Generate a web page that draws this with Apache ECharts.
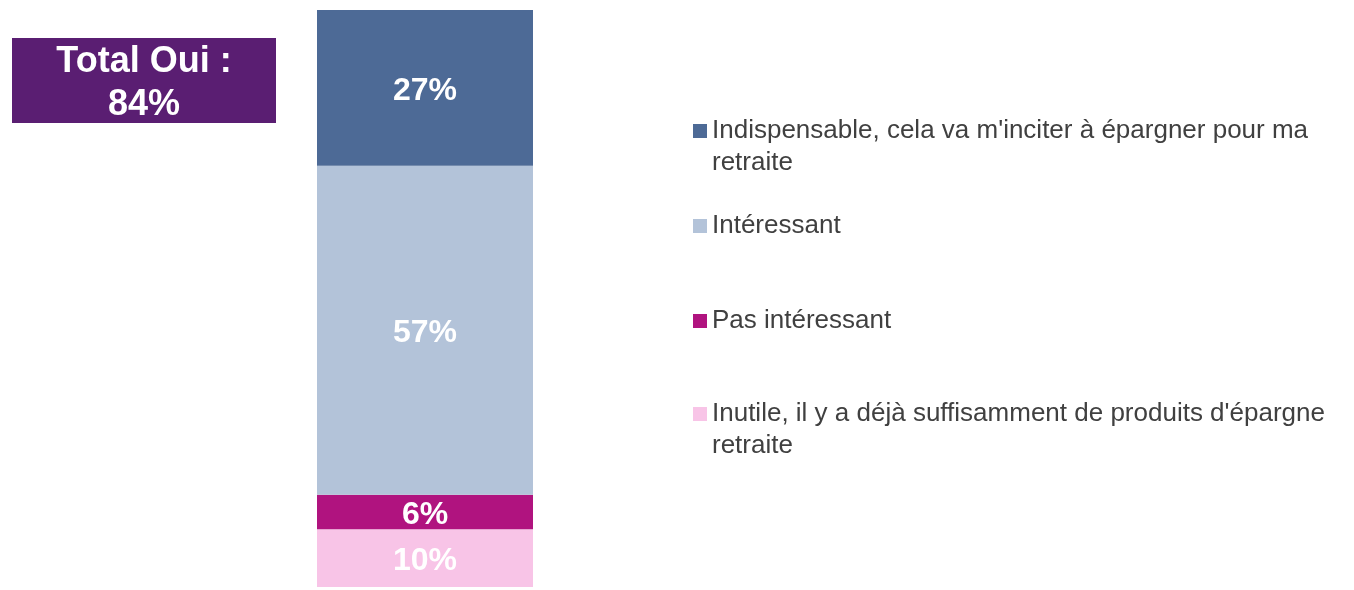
<!DOCTYPE html>
<html>
<head>
<meta charset="utf-8">
<script src="https://cdn.jsdelivr.net/npm/echarts@6/dist/echarts.min.js"></script>
<style>
  html, body { margin: 0; padding: 0; background: #fff; }
  #chart { width: 1354px; height: 590px; }
</style>
</head>
<body>
<div id="chart"></div>
<script>
// data, bottom of the stack first
var categories = ['Total'];
var seriesNames = [
  "Inutile, il y a déjà suffisamment de produits d'épargne retraite",
  'Pas intéressant',
  'Intéressant',
  "Indispensable, cela va m'inciter à épargner pour ma retraite"
];
var inutileVals = [10];
var pasInteressantVals = [6];
var interessantVals = [57];
var indispensableVals = [27];
var totalOui = '84%';

var colors = ['#F8C4E7', '#B0137F', '#B3C3D9', '#4D6A96'];
var allVals = [inutileVals, pasInteressantVals, interessantVals, indispensableVals];
var FONT = 'Liberation Sans, Arial, sans-serif';

var chart = echarts.init(document.getElementById('chart'));

var series = seriesNames.map(function (name, i) {
  return {
    name: name,
    type: 'bar',
    stack: 'total',
    barWidth: '100%',
    data: allVals[i],
    itemStyle: { color: colors[i] },
    label: {
      show: true,
      position: 'inside',
      offset: [0, 3],
      formatter: '{c}%',
      color: '#fff',
      fontSize: 32,
      fontWeight: 'bold',
      fontFamily: FONT
    }
  };
});

// legend: one block per item, top-down like the picture.
// long names wrap, the rest of the line goes below as plain text
var legendCenters = [131, 226, 321, 414];
var legendNames = [seriesNames[3], seriesNames[2], seriesNames[1], seriesNames[0]];
var legendFirst = [
  "Indispensable, cela va m'inciter à épargner pour ma",
  'Intéressant',
  'Pas intéressant',
  "Inutile, il y a déjà suffisamment de produits d'épargne"
];
var legendSecond = ['retraite', '', '', 'retraite'];

var legends = legendNames.map(function (name, i) {
  return {
    data: [name],
    left: 693,
    top: legendCenters[i] - 16,
    icon: 'rect',
    itemWidth: 14,
    itemHeight: 14,
    selectedMode: false,
    padding: 0,
    formatter: function () { return legendFirst[i]; },
    textStyle: {
      color: '#404040',
      fontSize: 26,
      lineHeight: 32,
      fontFamily: FONT
    }
  };
});

var graphics = [
  {
    type: 'rect',
    left: 12, top: 38,
    shape: { width: 264, height: 85 },
    style: { fill: '#5A1E72' }
  },
  {
    type: 'text',
    x: 144, y: 84,
    style: {
      text: 'Total Oui :\n' + totalOui,
      align: 'center',
      verticalAlign: 'middle',
      fill: '#fff',
      font: 'bold 36px "Liberation Sans", Arial, sans-serif',
      lineHeight: 43
    }
  }
];
legendSecond.forEach(function (t, i) {
  if (!t) return;
  graphics.push({
    type: 'text',
    x: 712, y: legendCenters[i] + 32,
    style: {
      text: t,
      verticalAlign: 'middle',
      fill: '#404040',
      font: '26px "Liberation Sans", Arial, sans-serif'
    }
  });
});

var option = {
  animation: false,
  grid: { left: 317, width: 216, top: 10, bottom: 3 },
  xAxis: { type: 'category', data: categories, show: false },
  yAxis: { type: 'value', min: 0, max: 100, show: false },
  legend: legends,
  graphic: graphics,
  series: series
};

chart.setOption(option);
</script>
</body>
</html>
